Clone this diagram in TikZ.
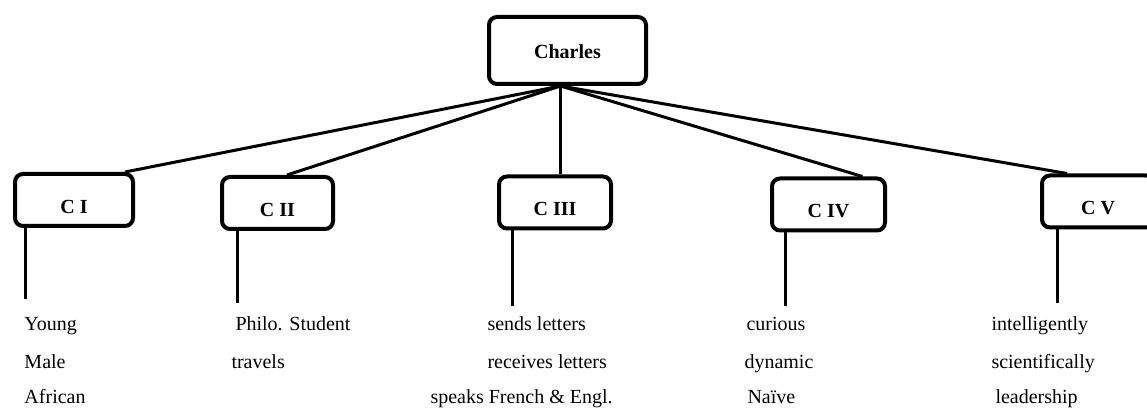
\documentclass[tikz,border=0pt]{standalone}
\usepackage{fontspec}
\setmainfont{Liberation Serif}
\usetikzlibrary{calc,positioning}
\tikzset{
  charbox/.style={
    rectangle,
    rounded corners=4pt,
    line width=2pt,
    draw=black,
    minimum width=#1,
    minimum height=26pt,
    inner sep=0pt,
    text height=13.5pt,
    text depth=0pt,
    font=\bfseries\fontsize{10}{12}\selectfont
  },
  topbox/.style={
    charbox=78.5pt,
    minimum height=33.5pt,
    text height=8pt
  },
  trait/.style={
    anchor=base west,
    inner sep=0pt,
    font=\fontsize{10}{12}\selectfont
  }
}

\begin{document}
\begin{tikzpicture}[x=0.5pt, y=-0.5pt, line width=1.5pt]
    \useasboundingbox (0,0) rectangle (1147,410);

    %% Top box
    \node[topbox] (charles) at (567.5,50.5) {Charles};
    \coordinate (hub) at ([xshift=-3.5pt]charles.south);

    %% Character boxes
    \node[charbox=59pt] (c1) at (74,200) {C I};
    \node[charbox=55.5pt] (c2) at (277.5,203) {C II};
    \node[charbox=56pt] (c3) at (555,202.5) {C III};
    \node[charbox=56.5pt] (c4) at (828.5,204.5) {C IV};
    \node[charbox=56pt] (c5) at (1098,201.5) {C V};

    \draw (hub) -- ([xshift=-5pt]c1.north east);
    \draw (hub) -- ([xshift=4.75pt]c2.north);
    \draw (hub) -- (hub |- c3.north);
    \draw (hub) -- ([xshift=17pt]c4.north);
    \draw (hub) -- ([xshift=-15.5pt]c5.north);

    %% Legs
    \coordinate (c1foot) at (25,299);
    \coordinate (c2foot) at (237,303);
    \coordinate (c3foot) at (512,306);
    \coordinate (c4foot) at (785,306);
    \coordinate (c5foot) at (1057,303);
    \draw (c1foot |- c1.south) -- (c1foot);
    \draw (c2foot |- c2.south) -- (c2foot);
    \draw (c3foot |- c3.south) -- (c3foot);
    \draw (c4foot |- c4.south) -- (c4foot);
    \draw (c5foot |- c5.south) -- (c5foot);

    %% Traits
    \node[trait] (young) at (23,331) {Young};
    \node[trait] (male) at (23,369) {Male};
    \node[trait] (african) at (23,404) {African};

    \node[trait] (philo) at (234,331) {Philo. Student};
    \node[trait] (travels) at (230,369) {travels};

    \node[trait] (sends) at (486,331) {sends letters};
    \node[trait] (receives) at (486,369) {receives letters};
    \node[trait] (speaks) at (429,404) {speaks French \& Engl.};

    \node[trait] (curious) at (745,331) {curious};
    \node[trait] (dynamic) at (743,369) {dynamic};
    \node[trait] (naive) at (746,404) {Naïve};

    \node[trait] (intel) at (990,331) {intelligently};
    \node[trait] (scien) at (990,369) {scientifically};
    \node[trait] (leader) at (994,404) {leadership};
\end{tikzpicture}
\end{document}
